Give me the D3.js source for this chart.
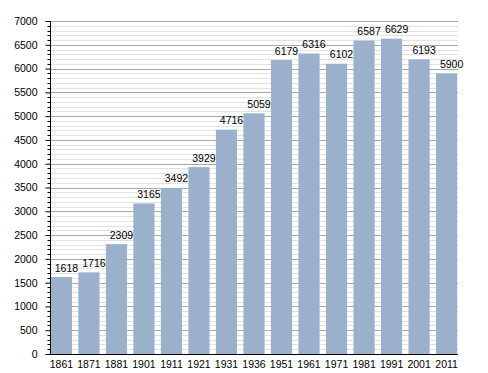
<!DOCTYPE html>
<html>
<head>
<meta charset="utf-8">
<script src="https://cdn.jsdelivr.net/npm/d3@7"></script>
<style>
body { margin: 0; background: #fff; }
text { font-family: "Liberation Sans", Arial, sans-serif; font-size: 10.5px; fill: #000; }
</style>
</head>
<body>
<div id="chart"></div>
<script>
var years = ["1861","1871","1881","1901","1911","1921","1931","1936","1951","1961","1971","1981","1991","2001","2011"];
var population = [1618,1716,2309,3165,3492,3929,4716,5059,6179,6316,6102,6587,6629,6193,5900];
var yMajorTicks = [0,500,1000,1500,2000,2500,3000,3500,4000,4500,5000,5500,6000,6500,7000];

var svg = d3.select("#chart")
	.append("svg")
	.attr("width", 488)
	.attr("height", 373);

var x = d3.scaleBand()
	.domain(years)
	.range([50, 458])
	.paddingInner(0.23)
	.paddingOuter(0.03);

var y = d3.scaleLinear()
	.domain([0, 7000])
	.range([354, 21]);

var minor = d3.range(0, 7001, 100).filter(function (d) { return d % 500 != 0; });

// minor grid
svg.append("g").selectAll("line")
	.data(minor)
	.enter().append("line")
	.attr("x1", 50).attr("x2", 458)
	.attr("y1", function (d) { return Math.round(y(d)) + 0.5; })
	.attr("y2", function (d) { return Math.round(y(d)) + 0.5; })
	.attr("stroke", "#e2e2e2");

// major grid
svg.append("g").selectAll("line")
	.data(yMajorTicks.slice(1))
	.enter().append("line")
	.attr("x1", 50).attr("x2", 458)
	.attr("y1", function (d) { return Math.round(y(d)) + 0.5; })
	.attr("y2", function (d) { return Math.round(y(d)) + 0.5; })
	.attr("stroke", "#a9a9a9");

// bars
svg.append("g").selectAll("rect")
	.data(population)
	.enter().append("rect")
	.attr("x", function (d, i) { return x(years[i]); })
	.attr("width", x.bandwidth())
	.attr("y", function (d) { return y(d); })
	.attr("height", function (d) { return y(0) - y(d); })
	.attr("fill", "#9bb1cb");

// value labels
svg.append("g").selectAll("text")
	.data(population)
	.enter().append("text")
	.attr("x", function (d, i) { return x(years[i]) + x.bandwidth() / 2 + 5; })
	.attr("y", function (d) { return y(d) - 5.5; })
	.attr("text-anchor", "middle")
	.text(function (d) { return d; });

// y axis
var yAxis = svg.append("g")
	.attr("transform", "translate(50.5,0)")
	.call(d3.axisLeft(y).tickValues(yMajorTicks).tickFormat(d3.format("d")).tickSize(5).tickPadding(8));
yAxis.selectAll("text").style("font-size", "10.5px").style("font-family", "Liberation Sans, Arial, sans-serif");
yAxis.selectAll("line, path").attr("stroke", "#000");
yAxis.select(".domain").attr("d", "M0," + y(7000) + "V" + y(0));

svg.append("g").selectAll("line")
	.data(minor)
	.enter().append("line")
	.attr("x1", 47.5).attr("x2", 50.5)
	.attr("y1", function (d) { return Math.round(y(d)) + 0.5; })
	.attr("y2", function (d) { return Math.round(y(d)) + 0.5; })
	.attr("stroke", "#000");

// x axis
var xAxis = svg.append("g")
	.attr("transform", "translate(0,354.5)")
	.call(d3.axisBottom(x).tickSize(0).tickPadding(6));
xAxis.select(".domain").attr("d", "M50," + 0 + "H458").attr("stroke", "#000");
xAxis.selectAll("text").style("font-size", "10.5px").style("font-family", "Liberation Sans, Arial, sans-serif");
</script>
</body>
</html>
